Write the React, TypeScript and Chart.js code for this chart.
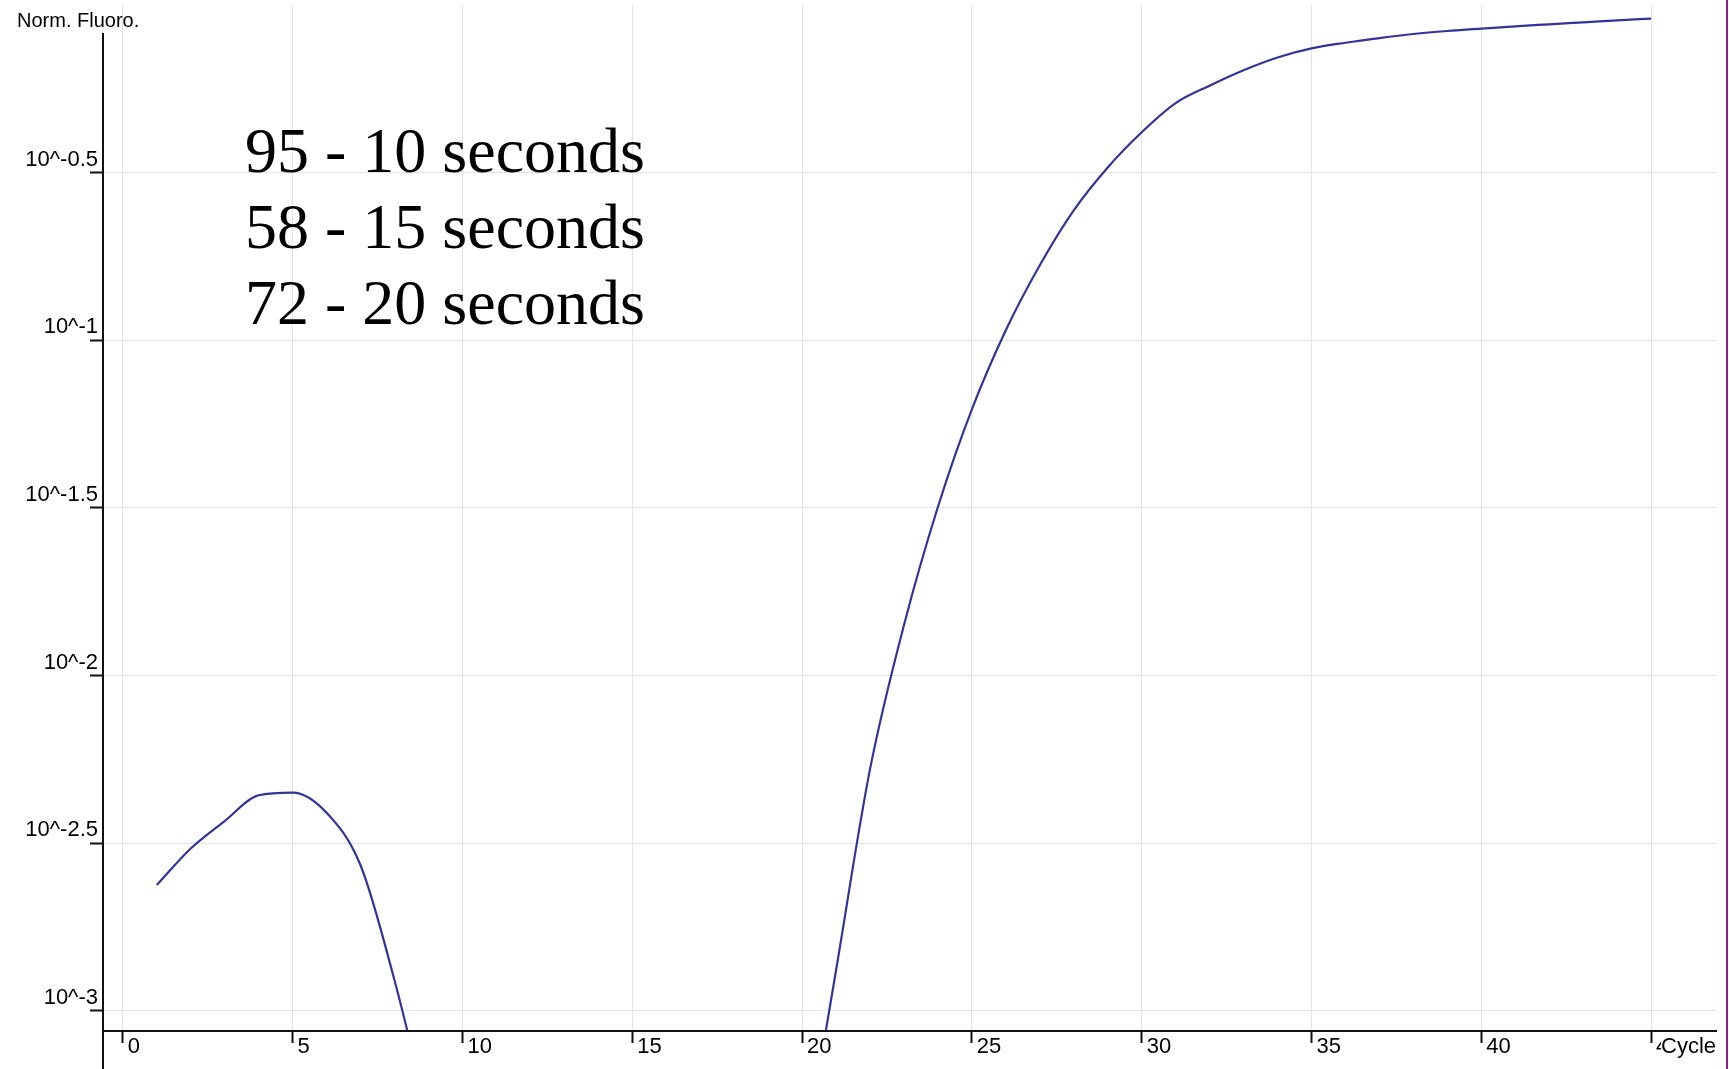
import React, { useEffect, useRef } from 'react';
import { Chart, registerables } from 'chart.js';

Chart.register(...registerables);

// ---- data ----
const CYCLES = [
  1, 2, 3, 4, 5, 6, 7, 8, 9, 10, 11, 12, 13, 14, 15, 16, 17, 18, 19, 20,
  21, 22, 23, 24, 25, 26, 27, 28, 29, 30, 31, 32, 33, 34, 35, 36, 37, 38, 39, 40,
  41, 42, 43, 44, 45,
];
// normalised fluorescence (null = below the plotted range / not shown)
const FLUORO: (number | null)[] = [
  0.002371, 0.003048, 0.003681, 0.004395, 0.004477, 0.003899, 0.002716, 0.001233, 0.000479, null,
  null, null, null, null, null, null, null, null, null, 0.000331,
  0.001318, 0.005248, 0.01413, 0.03184, 0.06223, 0.1072, 0.1675, 0.2443, 0.3281, 0.4178,
  0.5105, 0.5754, 0.6397, 0.6982, 0.743, 0.7727, 0.798, 0.8204, 0.8375, 0.8511,
  0.865, 0.877, 0.8892, 0.9016, 0.912,
];

const X_TICKS = [0, 5, 10, 15, 20, 25, 30, 35, 40, 45];
const X_LABELS = ['0', '5', '10', '15', '20', '25', '30', '35', '40', '45'];
const Y_TICK_EXPONENTS = [-3, -2.5, -2, -1.5, -1, -0.5];
const Y_LABELS = ['10^-3', '10^-2.5', '10^-2', '10^-1.5', '10^-1', '10^-0.5'];
const Y_TITLE = 'Norm. Fluoro.';
const X_TITLE = 'Cycle';
const NOTES = ['95 - 10 seconds', '58 - 15 seconds', '72 - 20 seconds'];

const X_MIN = -0.583;
const X_MAX = 46.94;
const Y_MIN_EXP = -3.0605;
const Y_MAX = 1;

const SANS = "'Liberation Sans', Arial, sans-serif";
const SERIF = "'Liberation Serif', 'Times New Roman', serif";

const overlay = {
  id: 'overlay',
  afterDraw(chart: any) {
    const ctx = chart.ctx as CanvasRenderingContext2D;
    const { left, right, bottom } = chart.chartArea;
    ctx.save();
    // axis lines
    ctx.strokeStyle = '#111';
    ctx.lineWidth = 2;
    ctx.beginPath();
    ctx.moveTo(left, 33);
    ctx.lineTo(left, chart.height);
    ctx.stroke();
    ctx.beginPath();
    ctx.moveTo(left - 1, bottom);
    ctx.lineTo(right, bottom);
    ctx.stroke();

    // y title
    ctx.fillStyle = '#000';
    ctx.font = `20px ${SANS}`;
    ctx.textAlign = 'left';
    ctx.textBaseline = 'alphabetic';
    ctx.fillText(Y_TITLE, 17, 27);

    // x title with white background (covers part of the last tick label)
    ctx.fillStyle = '#fff';
    ctx.fillRect(1661, bottom + 4, right - 1661, chart.height - bottom - 4);
    ctx.fillStyle = '#000';
    ctx.font = `22px ${SANS}`;
    ctx.textBaseline = 'middle';
    ctx.fillText(X_TITLE, 1661, 1047);

    // annotation
    ctx.font = `64px ${SERIF}`;
    ctx.textBaseline = 'alphabetic';
    const baselines = [172, 248, 324];
    NOTES.forEach((t, i) => ctx.fillText(t, 245, baselines[i]));

    // right border
    ctx.fillStyle = '#8a1f8a';
    ctx.fillRect(1726, 0, 2, chart.height);
    ctx.restore();
  },
};

export default function App() {
  const ref = useRef<HTMLCanvasElement>(null);

  useEffect(() => {
    if (!ref.current) return;
    const points = CYCLES.map((c, i) => ({ x: c, y: FLUORO[i] }));
    const chart = new Chart(ref.current, {
      type: 'line',
      data: {
        datasets: [
          {
            data: points as any,
            borderColor: '#33339c',
            borderWidth: 2.2,
            pointRadius: 0,
            cubicInterpolationMode: 'monotone',
            spanGaps: false,
            fill: false,
          },
        ],
      },
      options: {
        animation: false,
        responsive: false,
        devicePixelRatio: 1,
        layout: { padding: { left: 0, right: 12, top: 4, bottom: 0 } },
        plugins: {
          legend: { display: false },
          tooltip: { enabled: false },
        },
        scales: {
          x: {
            type: 'linear',
            min: X_MIN,
            max: X_MAX,
            afterBuildTicks: (s: any) => {
              s.ticks = X_TICKS.map((v) => ({ value: v }));
            },
            afterFit: (s: any) => {
              s.height = 38;
            },
            border: { display: false },
            grid: {
              color: '#e3e3e3',
              lineWidth: 1,
              tickColor: '#111',
              tickLength: 12,
              tickWidth: 2,
            },
            ticks: {
              autoSkip: false,
              maxRotation: 0,
              minRotation: 0,
              align: 'start',
              labelOffset: 5,
              padding: -9,
              color: '#000',
              font: { family: SANS, size: 22 },
              callback: (_v: any, i: number) => X_LABELS[i],
            },
          },
          y: {
            type: 'logarithmic',
            min: Math.pow(10, Y_MIN_EXP),
            max: Y_MAX,
            afterBuildTicks: (s: any) => {
              s.ticks = Y_TICK_EXPONENTS.map((e) => ({ value: Math.pow(10, e) }));
            },
            afterFit: (s: any) => {
              s.width = 103;
            },
            border: { display: false },
            grid: {
              color: '#e3e3e3',
              lineWidth: 1,
              tickColor: '#111',
              tickLength: 13,
              tickWidth: 2,
            },
            ticks: {
              autoSkip: false,
              padding: -8,
              labelOffset: -13,
              color: '#000',
              font: { family: SANS, size: 22 },
              callback: (_v: any, i: number) => Y_LABELS[i],
            },
          },
        },
      },
      plugins: [overlay],
    });
    return () => chart.destroy();
  }, []);

  return (
    <div style={{ position: 'fixed', left: 0, top: 0, width: 1729, height: 1069, background: '#fff' }}>
      <canvas ref={ref} width={1729} height={1069} style={{ display: 'block', width: 1729, height: 1069 }} />
    </div>
  );
}
